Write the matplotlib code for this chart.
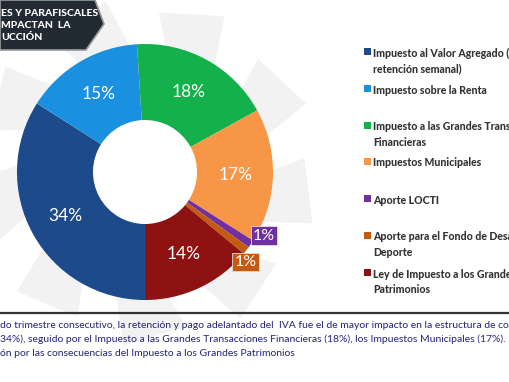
"""Donut chart: taxes and levies impacting construction (share of impact)."""

import matplotlib
matplotlib.use("Agg")
import matplotlib.pyplot as plt
import numpy as np
from matplotlib import font_manager
from matplotlib.patches import Polygon

W, H = 510, 382

labels = [
    "Impuesto al Valor Agregado (IVA,\nretención semanal)",
    "Impuesto sobre la Renta",
    "Impuesto a las Grandes Transacciones\nFinancieras",
    "Impuestos Municipales",
    "Aporte LOCTI",
    "Aporte para el Fondo de Desarrollo del\nDeporte",
    "Ley de Impuesto a los Grandes\nPatrimonios",
]
shares = [34, 15, 18, 17, 1, 1, 14]
colors = ["#1c4a8a", "#1a90e0", "#13b04b", "#f79646", "#7030a0", "#c55a11", "#8e1212"]
explode = [0.03, 0, 0, 0, 0, 0, 0]

title_lines = ["ES Y PARAFISCALES", "MPACTAN  LA", "UCCIÓN"]
note_lines = [
    "do trimestre consecutivo, la retención y pago adelantado del  IVA fue el de mayor impacto en la estructura de costos",
    "34%), seguido por el Impuesto a las Grandes Transacciones Financieras (18%), los Impuestos Municipales (17%).",
    "ón por las consecuencias del Impuesto a los Grandes Patrimonios",
]


def bold_family():
    """Pick the first family that really ships a bold face."""
    for fam in ["Lato", "Roboto", "Open Sans", "Liberation Sans"]:
        path = font_manager.findfont(font_manager.FontProperties(family=fam, weight="bold"),
                                     fallback_to_default=False)
        if "bold" in path.lower() or "black" in path.lower():
            return fam
    return "DejaVu Sans"


plt.rcParams["font.family"] = ["Lato", "DejaVu Sans"]
BOLD = [bold_family(), "DejaVu Sans"]

fig = plt.figure(figsize=(W / 100, H / 100), dpi=100)
ax = fig.add_axes([0, 0, 1, 1])

cx, cy = 145, H - 172
r_out, r_in = 128, 52

# faint watermark blades behind the donut
for k in range(9):
    a = np.deg2rad(15 + k * 40)
    pts = []
    for rr, da in [(118, 0), (175, 8), (160, 30), (118, 24)]:
        pts.append((cx + rr * np.cos(a + np.deg2rad(da)), cy + rr * np.sin(a + np.deg2rad(da))))
    ax.add_patch(Polygon(pts, closed=True, facecolor="#f2f2f2", edgecolor="none", zorder=0))

wedges, _ = ax.pie(
    shares,
    colors=colors,
    explode=explode,
    startangle=270,
    counterclock=False,
    center=(cx, cy),
    radius=r_out,
    frame=True,
    wedgeprops=dict(width=r_out - r_in, linewidth=0),
)
for w in wedges:
    w.set_zorder(2)

# slice labels
for w, val, col in zip(wedges, shares, colors):
    mid = np.deg2rad((w.theta1 + w.theta2) / 2)
    ox, oy = w.center
    if val >= 5:
        r = (r_out + r_in) / 2 + 1
        ax.text(ox + r * np.cos(mid), oy + r * np.sin(mid), f"{val}%",
                color="white", fontsize=12.5, ha="center", va="center", zorder=4)
    else:
        shift = 6 if col == "#7030a0" else -4
        ang = mid + np.deg2rad(shift)
        r = r_out + 7
        ax.text(ox + r * np.cos(ang), oy + r * np.sin(ang), f"{val}%",
                color="white", fontsize=11.5, ha="center", va="center", zorder=5,
                bbox=dict(boxstyle="square,pad=0.15", facecolor=col, edgecolor="#dddddd", linewidth=0.6))

# legend (custom, clipped by the right edge like the original)
leg_y = [51, 88, 125, 161, 198, 235, 272]
for y, lab, col in zip(leg_y, labels, colors):
    ax.add_patch(plt.Rectangle((364, H - y - 3.5), 7, 7, facecolor=col, edgecolor="none", zorder=3))
    ax.text(373, H - y + 3.5, lab, fontsize=7.6, fontweight=900, family=BOLD, color="#333333",
            ha="left", va="top", linespacing=1.5, zorder=3)

# title banner top-left
ax.add_patch(Polygon([(0, H), (95, H), (104, H - 24), (86, H - 50), (0, H - 50)],
                     closed=True, facecolor="#222a33", edgecolor="#9a9a9a", linewidth=1.2, zorder=3))
for i, line in enumerate(title_lines):
    ax.text(1, H - 13 - i * 12.5, line, fontsize=7.5, fontweight=900, family=BOLD, color="white",
            ha="left", va="center", zorder=4)

# separator and note text
ax.plot([0, W], [H - 313, H - 313], color="#333333", linewidth=1.6, zorder=3)
for i, line in enumerate(note_lines):
    ax.text(0, H - 325 - i * 14.5, line, fontsize=7.5, color="#23237a",
            ha="left", va="center", zorder=3)

ax.set_xlim(0, W)
ax.set_ylim(0, H)
ax.set_aspect("auto")
ax.axis("off")

fig.savefig("out.png", dpi=100, facecolor="white")
